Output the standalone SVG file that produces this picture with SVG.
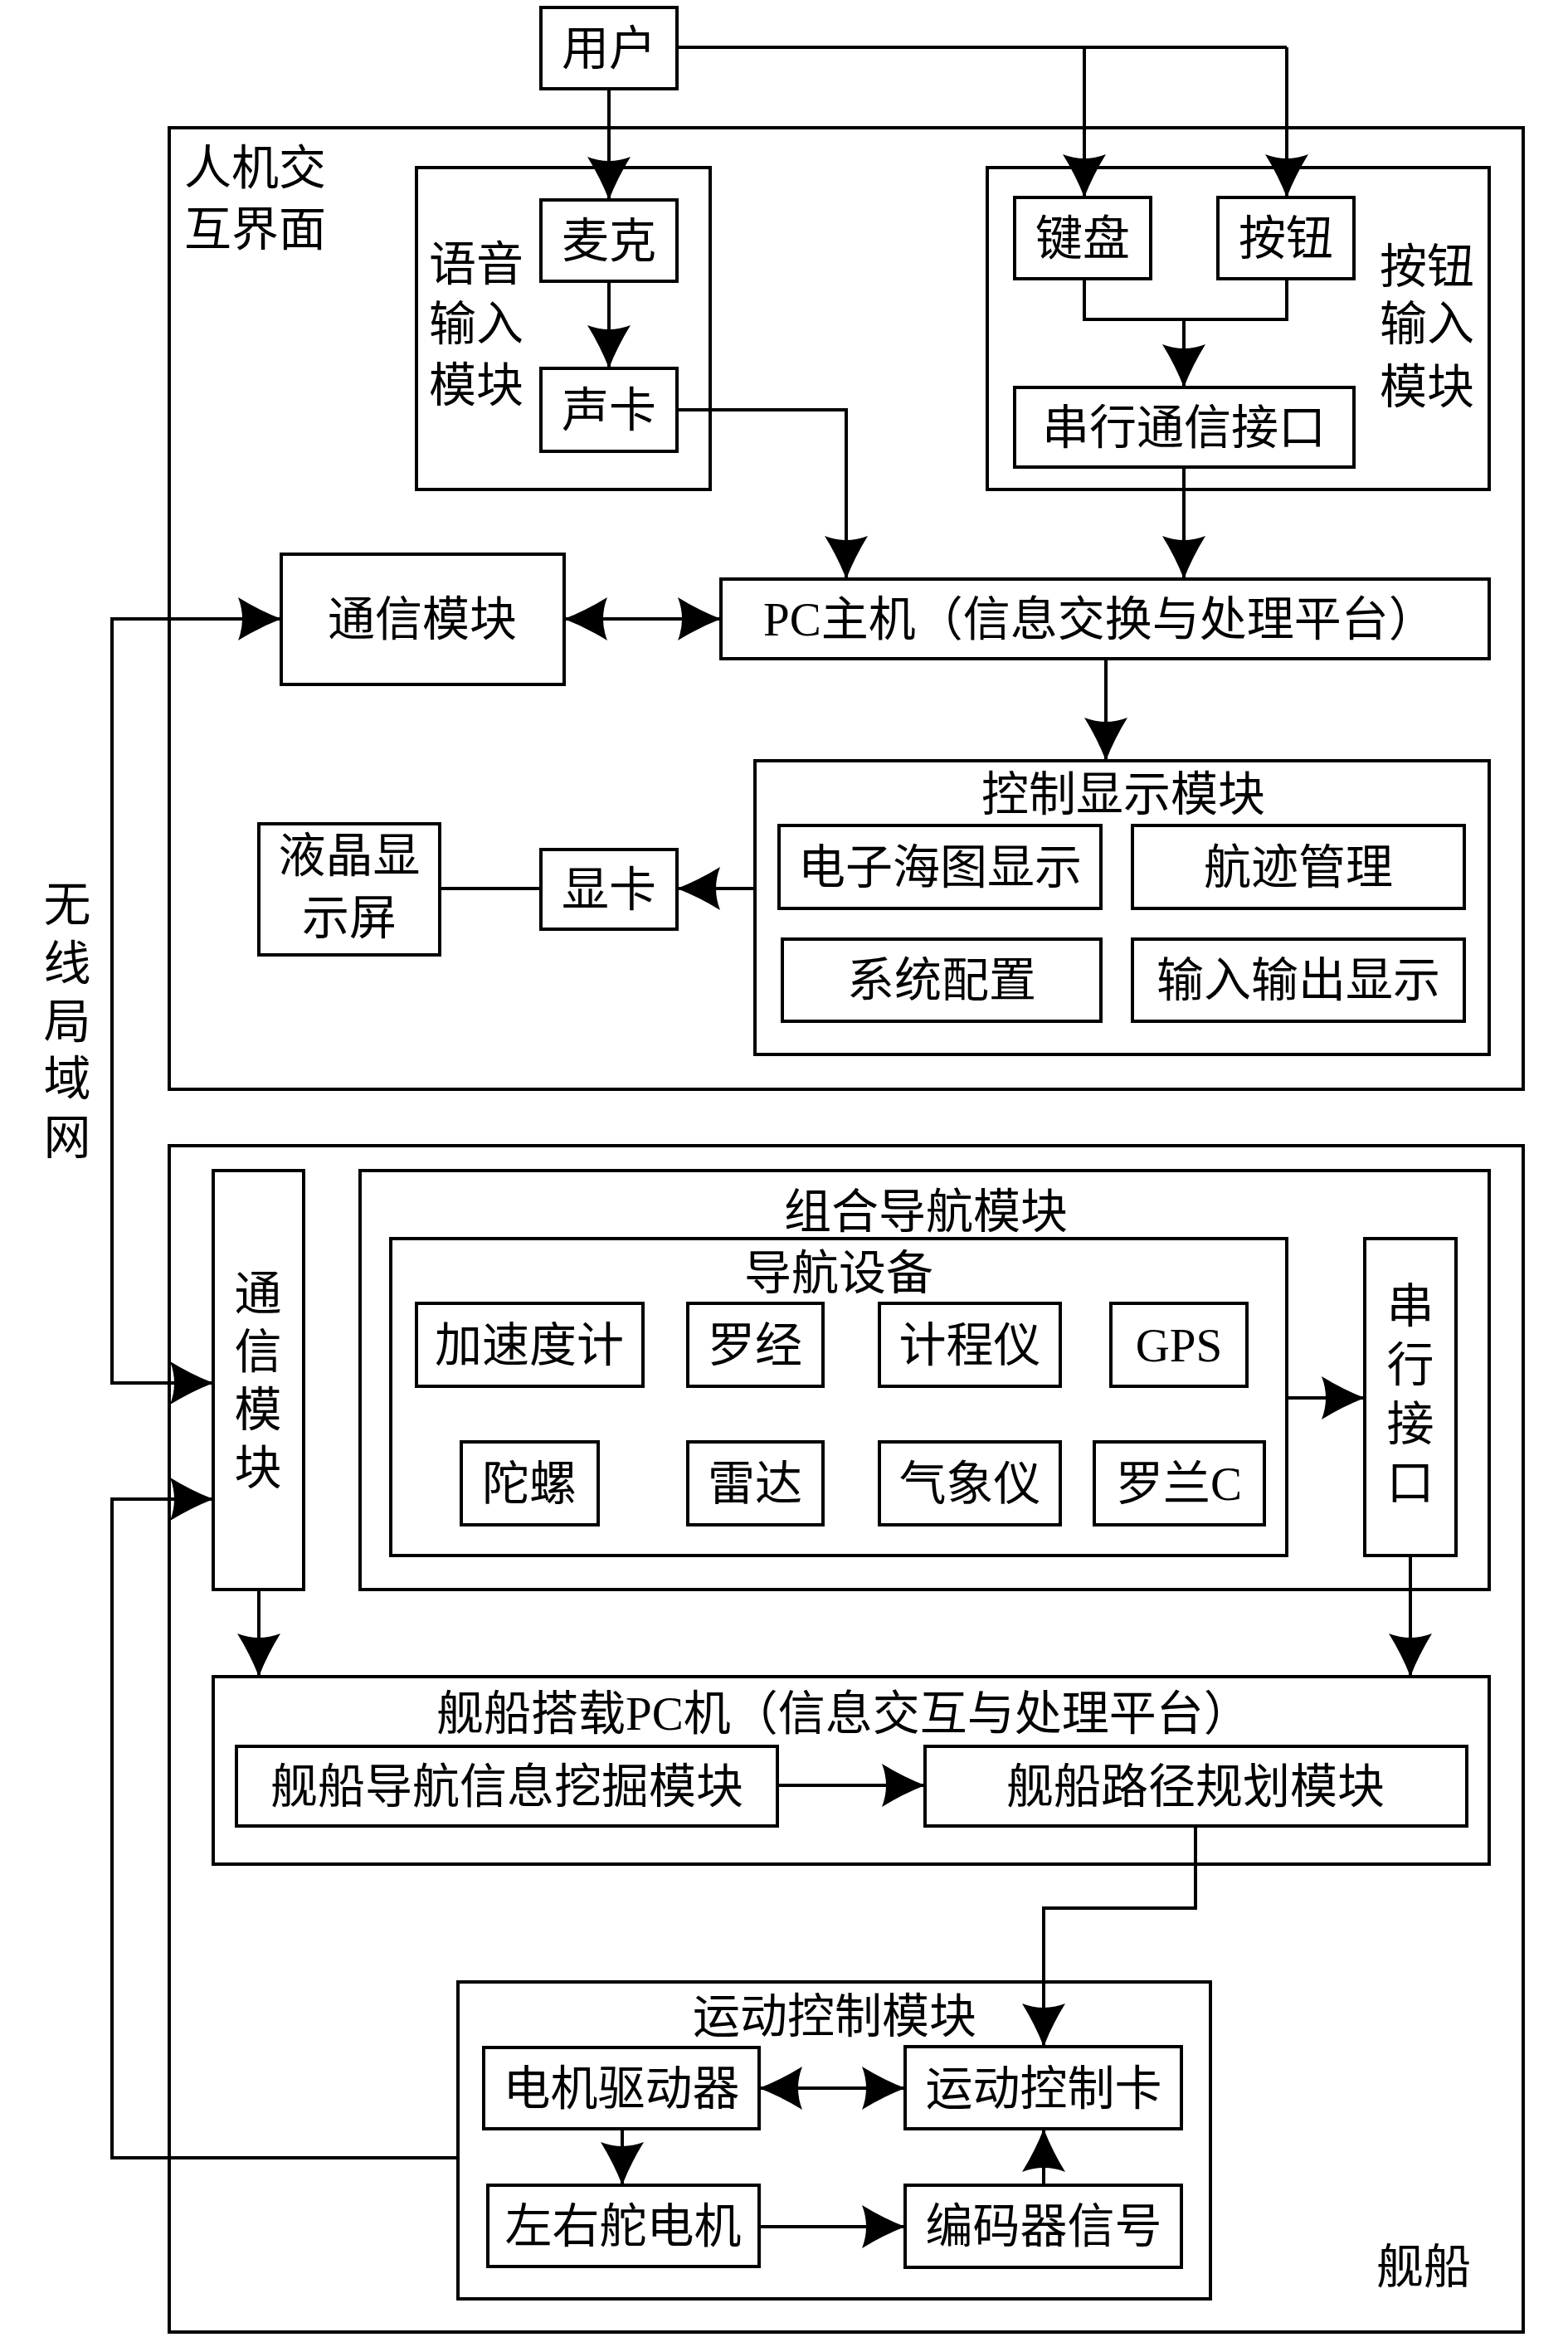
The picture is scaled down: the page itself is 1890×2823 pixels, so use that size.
<svg xmlns="http://www.w3.org/2000/svg" width="1890" height="2823" viewBox="0 0 1890 2823">
<style>
.b{fill:none;stroke:#000;stroke-width:4}
.c{fill:none;stroke:#000;stroke-width:4}
.t{font-family:"Liberation Serif","Noto Sans CJK SC",serif;font-size:57px;fill:#000}
.m{text-anchor:middle}
</style>
<defs>
<marker id="a" markerUnits="userSpaceOnUse" markerWidth="60" markerHeight="60" viewBox="-56 -30 60 60" refX="0" refY="0" orient="auto-start-reverse">
<path d="M0,0 Q-26,-10 -52,-26 Q-42,0 -52,26 Q-26,10 0,0 Z" fill="#000"/>
</marker>
</defs>
<rect width="1890" height="2823" fill="#fff"/>

<g id="hmi-frame"><rect class="b" x="204" y="154" width="1632" height="1159"/><text class="t" x="222" y="222">人机交</text><text class="t" x="222" y="296">互界面</text></g>
<g id="user"><rect class="b" x="652" y="9" width="164" height="98"/><text class="t m" x="734" y="78">用户</text></g>
<g id="voice-module"><rect class="b" x="502" y="202" width="354" height="388"/><text class="t" x="517" y="338">语音</text><text class="t" x="517" y="410">输入</text><text class="t" x="517" y="484">模块</text></g>
<g id="mic"><rect class="b" x="652" y="241" width="164" height="98"/><text class="t m" x="734" y="310">麦克</text></g>
<g id="soundcard"><rect class="b" x="652" y="444" width="164" height="100"/><text class="t m" x="734" y="514">声卡</text></g>
<g id="button-module"><rect class="b" x="1190" y="202" width="605" height="388"/><text class="t" x="1663" y="341">按钮</text><text class="t" x="1663" y="410">输入</text><text class="t" x="1663" y="486">模块</text></g>
<g id="keyboard"><rect class="b" x="1223" y="238" width="164" height="98"/><text class="t m" x="1305" y="307">键盘</text></g>
<g id="button"><rect class="b" x="1468" y="238" width="164" height="98"/><text class="t m" x="1550" y="307">按钮</text></g>
<g id="serial-comm"><rect class="b" x="1223" y="467" width="409" height="96"/><text class="t m" x="1427" y="535">串行通信接口</text></g>
<g id="comm-top"><rect class="b" x="339" y="668" width="341" height="157"/><text class="t m" x="509" y="766">通信模块</text></g>
<g id="pc-host"><rect class="b" x="869" y="698" width="926" height="96"/><text class="t" x="920" y="766">PC主机（信息交换与处理平台）</text></g>
<g id="ctrl-display"><rect class="b" x="910" y="917" width="885" height="354"/><text class="t m" x="1354" y="977">控制显示模块</text></g>
<g id="chart"><rect class="b" x="939" y="995" width="388" height="100"/><text class="t m" x="1133" y="1065">电子海图显示</text></g>
<g id="track"><rect class="b" x="1365" y="995" width="400" height="100"/><text class="t m" x="1565" y="1065">航迹管理</text></g>
<g id="sysconf"><rect class="b" x="943" y="1132" width="384" height="99"/><text class="t m" x="1135" y="1201">系统配置</text></g>
<g id="io-display"><rect class="b" x="1365" y="1132" width="400" height="99"/><text class="t m" x="1565" y="1201">输入输出显示</text></g>
<g id="lcd"><rect class="b" x="312" y="993" width="218" height="158"/><text class="t m" x="421" y="1051">液晶显</text><text class="t m" x="421" y="1126">示屏</text></g>
<g id="gpu"><rect class="b" x="652" y="1024" width="164" height="96"/><text class="t m" x="734" y="1092">显卡</text></g>
<g id="wlan-label"><text class="t m" x="81" y="1110">无</text><text class="t m" x="81" y="1181">线</text><text class="t m" x="81" y="1251">局</text><text class="t m" x="81" y="1320">域</text><text class="t m" x="81" y="1391">网</text></g>

<g id="ship-frame"><rect class="b" x="204" y="1381" width="1632" height="1430"/><text class="t" x="1659" y="2752">舰船</text></g>
<g id="comm-ship"><rect class="b" x="257" y="1411" width="109" height="505"/><text class="t m" x="311" y="1579">通</text><text class="t m" x="311" y="1649">信</text><text class="t m" x="311" y="1719">模</text><text class="t m" x="311" y="1789">块</text></g>
<g id="integrated-nav"><rect class="b" x="434" y="1411" width="1361" height="505"/><text class="t m" x="1116" y="1480">组合导航模块</text></g>
<g id="nav-devices"><rect class="b" x="471" y="1493" width="1080" height="382"/><text class="t m" x="1011" y="1554">导航设备</text></g>
<g id="accel"><rect class="b" x="502" y="1571" width="273" height="100"/><text class="t m" x="638" y="1641">加速度计</text></g>
<g id="compass"><rect class="b" x="829" y="1571" width="163" height="100"/><text class="t m" x="910" y="1641">罗经</text></g>
<g id="odometer"><rect class="b" x="1060" y="1571" width="218" height="100"/><text class="t m" x="1169" y="1641">计程仪</text></g>
<g id="gps"><rect class="b" x="1339" y="1571" width="164" height="100"/><text class="t m" x="1421" y="1641">GPS</text></g>
<g id="gyro"><rect class="b" x="556" y="1738" width="165" height="100"/><text class="t m" x="638" y="1808">陀螺</text></g>
<g id="radar"><rect class="b" x="829" y="1738" width="163" height="100"/><text class="t m" x="910" y="1808">雷达</text></g>
<g id="weather"><rect class="b" x="1060" y="1738" width="218" height="100"/><text class="t m" x="1169" y="1808">气象仪</text></g>
<g id="loran"><rect class="b" x="1319" y="1738" width="205" height="100"/><text class="t m" x="1421" y="1808">罗兰C</text></g>
<g id="serial-port"><rect class="b" x="1645" y="1493" width="110" height="382"/><text class="t m" x="1700" y="1594">串</text><text class="t m" x="1700" y="1665">行</text><text class="t m" x="1700" y="1736">接</text><text class="t m" x="1700" y="1807">口</text></g>
<g id="ship-pc"><rect class="b" x="257" y="2021" width="1538" height="226"/><text class="t" x="526" y="2085">舰船搭载PC机（信息交互与处理平台）</text></g>
<g id="mining"><rect class="b" x="285" y="2105" width="652" height="96"/><text class="t m" x="611" y="2173">舰船导航信息挖掘模块</text></g>
<g id="path-plan"><rect class="b" x="1115" y="2105" width="653" height="96"/><text class="t m" x="1441" y="2173">舰船路径规划模块</text></g>
<g id="motion-module"><rect class="b" x="552" y="2389" width="907" height="382"/><text class="t m" x="1006" y="2450">运动控制模块</text></g>
<g id="motor-driver"><rect class="b" x="583" y="2468" width="332" height="98"/><text class="t m" x="749" y="2537">电机驱动器</text></g>
<g id="motion-card"><rect class="b" x="1091" y="2467" width="333" height="99"/><text class="t m" x="1258" y="2537">运动控制卡</text></g>
<g id="rudder-motor"><rect class="b" x="588" y="2634" width="327" height="98"/><text class="t m" x="751" y="2703">左右舵电机</text></g>
<g id="encoder"><rect class="b" x="1091" y="2634" width="333" height="99"/><text class="t m" x="1258" y="2703">编码器信号</text></g>

<g id="connectors">
<path class="c" d="M734,107 V241" marker-end="url(#a)"/>
<path class="c" d="M816,57 H1551"/>
<path class="c" d="M1307,57 V238" marker-end="url(#a)"/>
<path class="c" d="M1551,57 V238" marker-end="url(#a)"/>
<path class="c" d="M734,339 V444" marker-end="url(#a)"/>
<path class="c" d="M1307,336 V385 H1551 V336"/>
<path class="c" d="M1427,385 V467" marker-end="url(#a)"/>
<path class="c" d="M816,494 H1020 V698" marker-end="url(#a)"/>
<path class="c" d="M1427,563 V698" marker-end="url(#a)"/>
<path class="c" d="M680,746 H869" marker-start="url(#a)" marker-end="url(#a)"/>
<path class="c" d="M339,746 H135 V1667 H257" marker-start="url(#a)" marker-end="url(#a)"/>
<path class="c" d="M552,2601 H135 V1807 H257" marker-end="url(#a)"/>
<path class="c" d="M1333,794 V917" marker-end="url(#a)"/>
<path class="c" d="M910,1071 H816" marker-end="url(#a)"/>
<path class="c" d="M652,1071 H530"/>
<path class="c" d="M1551,1685 H1645" marker-end="url(#a)"/>
<path class="c" d="M312,1916 V2021" marker-end="url(#a)"/>
<path class="c" d="M1700,1875 V2021" marker-end="url(#a)"/>
<path class="c" d="M937,2152 H1115" marker-end="url(#a)"/>
<path class="c" d="M1441,2201 V2300 H1258 V2467" marker-end="url(#a)"/>
<path class="c" d="M915,2517 H1091" marker-start="url(#a)" marker-end="url(#a)"/>
<path class="c" d="M750,2566 V2634" marker-end="url(#a)"/>
<path class="c" d="M915,2684 H1091" marker-end="url(#a)"/>
<path class="c" d="M1258,2634 V2566" marker-end="url(#a)"/>
</g>
</svg>
